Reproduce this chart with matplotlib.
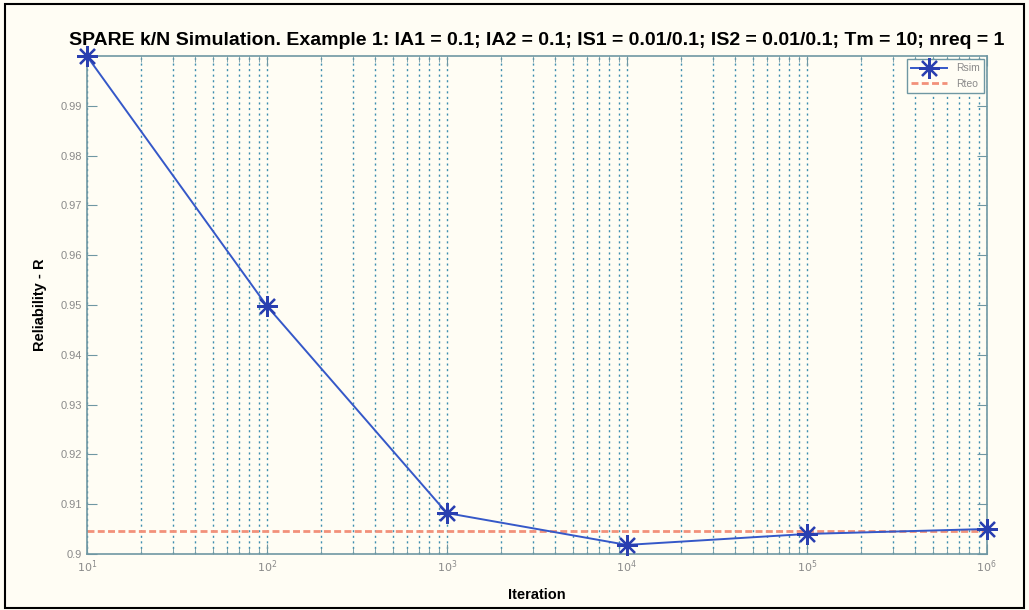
import matplotlib
matplotlib.use("Agg")
import matplotlib.pyplot as plt
from matplotlib.patches import Rectangle
from matplotlib.ticker import LogLocator, NullFormatter

# Simulated reliability per iteration count
iterations = [1e1, 1e2, 1e3, 1e4, 1e5, 1e6]
r_sim = [1.0, 0.9498, 0.9082, 0.9018, 0.9040, 0.9050]
r_teo = 0.90468

y_ticks = [0.90, 0.91, 0.92, 0.93, 0.94, 0.95, 0.96, 0.97, 0.98, 0.99]
y_labels = ["0.9", "0.91", "0.92", "0.93", "0.94", "0.95", "0.96", "0.97", "0.98", "0.99"]
x_ticks = [1e1, 1e2, 1e3, 1e4, 1e5, 1e6]
x_labels = ["$10^{1}$", "$10^{2}$", "$10^{3}$", "$10^{4}$", "$10^{5}$", "$10^{6}$"]

title = ("SPARE k/N Simulation. Example 1: IA1 = 0.1; IA2 = 0.1; "
         "IS1 = 0.01/0.1; IS2 = 0.01/0.1; Tm = 10; nreq = 1")

bg = "#fffdf4"
frame = "#6f97a3"

plt.rcParams["font.family"] = ["Liberation Sans", "DejaVu Sans"]

fig = plt.figure(figsize=(10.29, 6.10), dpi=100, facecolor=bg)
ax = fig.add_axes([0.0845, 0.092, 0.8745, 0.816], facecolor=bg)

# figure border
fig.patches.append(Rectangle((0.005, 0.004), 0.99, 0.99, transform=fig.transFigure,
                             fill=False, edgecolor="black", linewidth=1.5))

ax.set_xscale("log")
ax.set_xlim(1e1, 1e6)
ax.set_ylim(0.9, 1.0)

ax.axhline(r_teo, color="#f2917a", linestyle=(0, (2.5, 1.2)), linewidth=2.0, label="Rteo",
           zorder=2)
ax.plot(iterations, r_sim, color="#3558c8", linewidth=1.4, marker=(8, 2, 0), markersize=15,
        markeredgewidth=1.6, markeredgecolor="#2a3fb0", label="Rsim", zorder=3,
        clip_on=False)

ax.set_xticks(x_ticks)
ax.set_xticklabels(x_labels)
ax.set_yticks(y_ticks)
ax.set_yticklabels(y_labels)
ax.xaxis.set_minor_locator(LogLocator(base=10, subs=range(2, 10)))
ax.xaxis.set_minor_formatter(NullFormatter())

ax.tick_params(axis="both", which="both", direction="in", top=True, right=True,
               colors=frame, labelcolor="#8a8a8a", labelsize=8)
ax.tick_params(axis="both", which="major", length=7)
ax.tick_params(axis="x", which="minor", length=4)

# vertical dotted grid at major and minor decades
ax.grid(True, which="both", axis="x", color="#3f8fb0", linestyle=(0, (1.5, 2.5)),
        linewidth=1.0)

for sp in ax.spines.values():
    sp.set_color(frame)
    sp.set_linewidth(1.2)

ax.set_title(title, fontsize=14, fontweight="bold", pad=8)
ax.set_xlabel("Iteration", fontsize=10.5, fontweight="bold", labelpad=9)
ax.set_ylabel("Reliability - R", fontsize=10.5, fontweight="bold", labelpad=10)

handles, labels = ax.get_legend_handles_labels()
leg = ax.legend(handles[::-1], labels[::-1], loc="upper right", fontsize=7.5,
                frameon=True, fancybox=False, borderaxespad=0.3, handlelength=3.5)
leg.get_frame().set_edgecolor(frame)
leg.get_frame().set_facecolor(bg)
leg.get_frame().set_alpha(1)
for t in leg.get_texts():
    t.set_color("#8a8a8a")

fig.savefig("out.png", dpi=100, facecolor=bg)
